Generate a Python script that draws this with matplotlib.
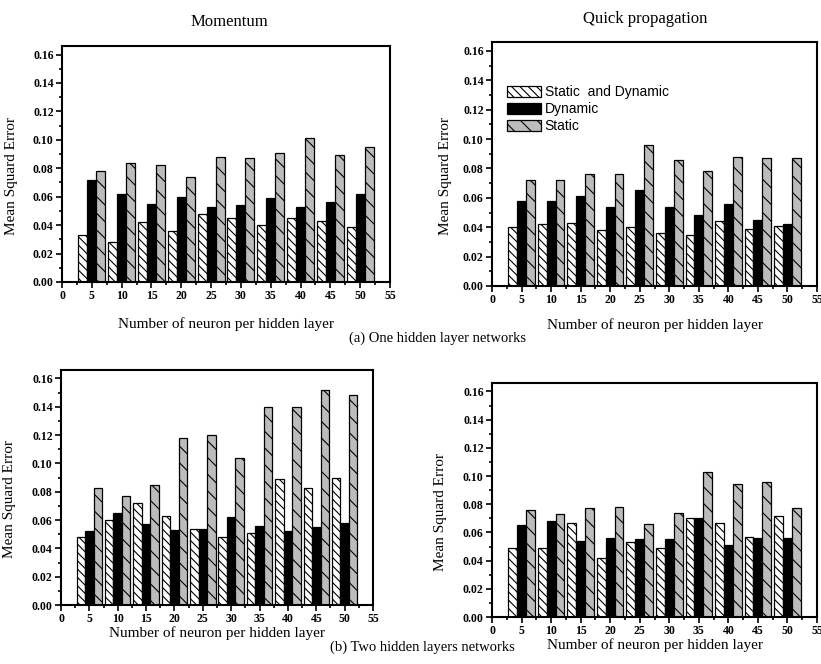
import matplotlib
matplotlib.use("Agg")
import matplotlib.pyplot as plt
import numpy as np
from matplotlib.ticker import MultipleLocator, FormatStrFormatter

plt.rcParams['font.family'] = ['Liberation Serif', 'DejaVu Serif']
plt.rcParams['hatch.linewidth'] = 0.8

neurons = [5, 10, 15, 20, 25, 30, 35, 40, 45, 50]
series_names = ["Static  and Dynamic", "Dynamic", "Static"]

# (a) One hidden layer - Momentum
mom1_sd = [0.033, 0.028, 0.042, 0.036, 0.048, 0.045, 0.040, 0.045, 0.043, 0.039]
mom1_dyn = [0.072, 0.062, 0.055, 0.060, 0.053, 0.054, 0.059, 0.053, 0.056, 0.062]
mom1_st = [0.078, 0.084, 0.082, 0.074, 0.088, 0.087, 0.091, 0.101, 0.089, 0.095]
# (a) One hidden layer - Quick propagation
qp1_sd = [0.040, 0.042, 0.043, 0.038, 0.040, 0.036, 0.035, 0.044, 0.039, 0.041]
qp1_dyn = [0.058, 0.058, 0.061, 0.054, 0.065, 0.054, 0.048, 0.056, 0.045, 0.042]
qp1_st = [0.072, 0.072, 0.076, 0.076, 0.096, 0.086, 0.078, 0.088, 0.087, 0.087]
# (b) Two hidden layers - Momentum
mom2_sd = [0.048, 0.060, 0.072, 0.063, 0.054, 0.048, 0.051, 0.089, 0.083, 0.090]
mom2_dyn = [0.052, 0.065, 0.057, 0.053, 0.054, 0.062, 0.056, 0.052, 0.055, 0.058]
mom2_st = [0.083, 0.077, 0.085, 0.118, 0.120, 0.104, 0.140, 0.140, 0.152, 0.148]
# (b) Two hidden layers - Quick propagation
qp2_sd = [0.049, 0.049, 0.067, 0.042, 0.053, 0.049, 0.070, 0.067, 0.057, 0.072]
qp2_dyn = [0.065, 0.068, 0.054, 0.056, 0.055, 0.055, 0.070, 0.051, 0.056, 0.056]
qp2_st = [0.076, 0.073, 0.077, 0.078, 0.066, 0.074, 0.103, 0.094, 0.096, 0.077]

W, H = 821, 664
fig = plt.figure(figsize=(W / 100, H / 100), dpi=100)

def ax_at(l, t, r, b):
    return fig.add_axes([l / W, 1 - b / H, (r - l) / W, (b - t) / H])

panels = [
    (ax_at(62, 46, 390, 282), (mom1_sd, mom1_dyn, mom1_st), 0.45),
    (ax_at(492, 42, 817, 286), (qp1_sd, qp1_dyn, qp1_st), 0.45),
    (ax_at(61, 370, 373, 605), (mom2_sd, mom2_dyn, mom2_st), 0.45),
    (ax_at(492, 383, 817, 617), (qp2_sd, qp2_dyn, qp2_st), 0.45),
]

bw = 1.5
styles = [
    dict(color='white', edgecolor='black', hatch='\\\\\\\\'),
    dict(color='black', edgecolor='black'),
    dict(color='#bcbcbc', edgecolor='black', hatch='\\\\'),
]
x = np.array(neurons, dtype=float)
ylab_x = [-0.134, -0.122, -0.144, -0.138]
xlab_y = [-0.18, -0.16, -0.12, -0.12]
for i, (ax, vals, yc) in enumerate(panels):
    handles = []
    for k, (v, st) in enumerate(zip(vals, styles)):
        h = ax.bar(x + (k - 1) * bw, v, width=bw, linewidth=0.9, label=series_names[k], **st)
        handles.append(h)
    ax.set_xlim(0, 55)
    ax.set_ylim(0, 0.166)
    ax.xaxis.set_major_locator(MultipleLocator(5))
    ax.xaxis.set_minor_locator(MultipleLocator(2.5))
    ax.yaxis.set_major_locator(MultipleLocator(0.02))
    ax.yaxis.set_minor_locator(MultipleLocator(0.01))
    ax.yaxis.set_major_formatter(FormatStrFormatter('%.2f'))
    ax.tick_params(which='both', direction='out', top=False, right=False, width=1.2)
    ax.tick_params(which='major', length=4, labelsize=8.5, pad=2)
    ax.tick_params(which='minor', length=2.5)
    for lbl in ax.get_xticklabels() + ax.get_yticklabels():
        lbl.set_fontweight('bold')
    for s in ax.spines.values():
        s.set_linewidth(1.5)
    ax.set_ylabel('Mean Squard Error', fontsize=11)
    ax.yaxis.set_label_coords(ylab_x[i], yc)
    ax.set_xlabel('Number of neuron per hidden layer', fontsize=11)
    ax.xaxis.label.set_va('center')
    ax.xaxis.set_label_coords(0.5, xlab_y[i])
    if i == 1:
        ax.legend(handles=handles, loc='upper left', bbox_to_anchor=(0.03, 0.845),
                  frameon=False, prop={'family': 'Liberation Sans', 'size': 10},
                  handlelength=2.4, handleheight=0.85, labelspacing=0.2,
                  handletextpad=0.3, borderaxespad=0)

fig.text(229 / W, 1 - 22 / H, 'Momentum', ha='center', va='center', fontsize=12)
fig.text(645 / W, 1 - 19 / H, 'Quick propagation', ha='center', va='center', fontsize=12)
fig.text(437 / W, 1 - 338 / H, '(a) One hidden layer networks', ha='center', va='center', fontsize=10.5)
fig.text(422 / W, 1 - 647 / H, '(b) Two hidden layers networks', ha='center', va='center', fontsize=10.5)

fig.savefig('out.png', dpi=100)
